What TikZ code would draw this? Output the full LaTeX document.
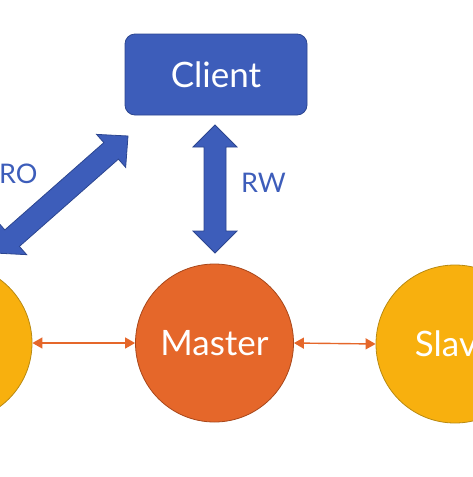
\documentclass[tikz,border=0pt]{standalone}
\usepackage{fontspec}
\setmainfont{Lato}
\usetikzlibrary{arrows.meta}
\definecolor{cblue}{HTML}{3D5DBA}
\definecolor{cblueD}{HTML}{2C4690}
\definecolor{corange}{HTML}{E5672A}
\definecolor{corangeD}{HTML}{A8471A}
\definecolor{cyellow}{HTML}{F8B00E}
\definecolor{cyellowD}{HTML}{B98A12}
\tikzset{
  box/.style={draw=cblueD, line width=0.8pt, fill=cblue, rounded corners=10pt, minimum width=182pt, minimum height=81pt, inner sep=0pt, text=white, font=\fontsize{35}{40}\selectfont},
  master/.style={circle, draw=corangeD, line width=0.8pt, fill=corange, minimum size=158pt, inner sep=0pt, text=white, font=\fontsize{35}{40}\selectfont},
  slave/.style={circle, draw=cyellowD, line width=0.8pt, fill=cyellow, minimum size=158pt, inner sep=0pt, text=white, font=\fontsize{35}{40}\selectfont},
  fat/.style={draw=cblueD, line width=0.8pt, fill=cblue},
  link/.style={draw=corange, line width=1.4pt, {Triangle[length=10pt,width=11pt]}-{Triangle[length=10pt,width=11pt]}},
  lbl/.style={text=cblue, font=\fontsize{27}{30}\selectfont, inner sep=0pt}
}
\begin{document}
\begin{tikzpicture}[x=1pt,y=-1pt]
\useasboundingbox (0,0) rectangle (473,477);
\clip (0,0) rectangle (473,477);
\node[box] (client) at (216,74.5) {Client};
\node[master] (master) at (214.5,343) {Master};
\node[slave] (sl) at (-47,343) {};
\node[slave] (sr) at (455,344) {Slave};
\draw[link] (sl.east) -- (master.west);
\draw[link] (master.east) -- (sr.west);
% RW fat double arrow
\coordinate (rwtop) at (215,125);
\coordinate (rwbot) at (215,253);
\draw[fat] (rwtop) -- ++(22,22) -- ++(-11,0) -- ++(0,84) -- ++(11,0) -- (rwbot) -- ++(-22,-22) -- ++(11,0) -- ++(0,-84) -- ++(-11,0) -- cycle;
% RO fat double arrow
\coordinate (rotop) at (128,136);
\coordinate (robot) at (-6.6,250.5);
\begin{scope}[shift={(rotop)}, rotate=41.4]
\draw[fat] (0,0) -- (-22.5,22) -- (-22.5,11) -- (-154.5,11) -- (-154.5,22) -- (-177,0) -- (-154.5,-22) -- (-154.5,-11) -- (-22.5,-11) -- (-22.5,-22) -- cycle;
\end{scope}
\node[lbl, anchor=west] (ro) at (-1,174) {RO};
\node[lbl, anchor=west] (rw) at (241,183) {RW};
\end{tikzpicture}
\end{document}
